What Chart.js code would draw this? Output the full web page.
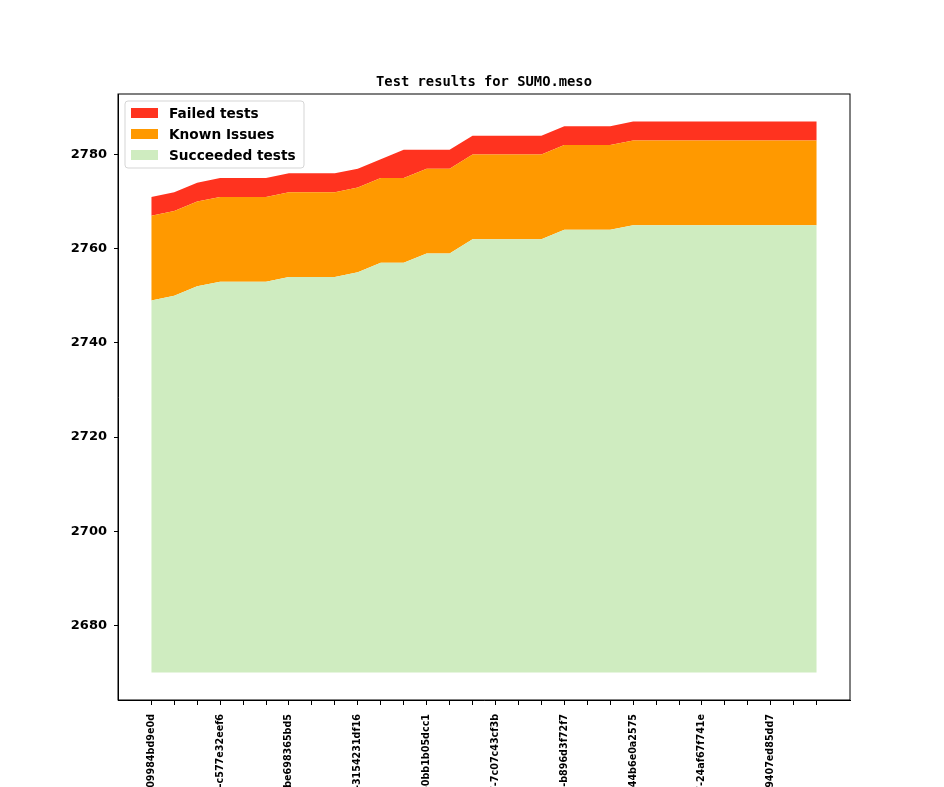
<!DOCTYPE html>
<html>
<head>
<meta charset="utf-8">
<script src="https://cdn.jsdelivr.net/npm/chart.js@4.4.1/dist/chart.umd.min.js"></script>
<style>
  body { margin: 0; background: #fff; overflow: hidden; }
  canvas { display: block; }
</style>
</head>
<body>
<canvas id="results" width="944" height="787"></canvas>
<script>
// ---------- DATA ----------
// commit labels (git describe of each tested build)
const commits = [
  "v1_19_0+0581-09984bd9e0d", "v1_19_0+0584-3a1f0c2b7e4", "v1_19_0+0590-5d2e81a9c03",
  "v1_19_0+0593-c577e32eef6", "v1_19_0+0597-81b0d4e6a2f", "v1_19_0+0602-e7c3a95d118",
  "v1_19_0+0606-be698365bd5", "v1_19_0+0611-4f20b7c8d9a", "v1_19_0+0615-a93e6d2014c",
  "v1_19_0+0619-3154231df16", "v1_19_0+0624-d08c5b7a3e1", "v1_19_0+0630-6b2f9e4c170",
  "v1_19_0+0633-0bb1b05dcc1", "v1_19_0+0638-f41a7d3e92b", "v1_19_0+0642-27c9e0b5a6d",
  "v1_19_0+0647-7c07c43cf3b", "v1_19_0+0651-9e85a1f06c2", "v1_19_0+0656-c3d47b2e801",
  "v1_19_0+0660-b896d3f72f7", "v1_19_0+0664-5a0e2c9b4d3", "v1_19_0+0669-e12f8a6c7b0",
  "v1_19_0+0673-44b6e0a2575", "v1_19_0+0678-0d9c3b5e1a4", "v1_19_0+0682-7f6a2e8d0c9",
  "v1_19_0+0687-24af67f741e", "v1_19_0+0691-b5c1e04a8f3", "v1_19_0+0696-38e7d9a2b16",
  "v1_19_0+0701-9407ed85dd7", "v1_19_0+0705-c6a0f3e4b28", "v1_19_0+0710-1e5b8d7c04a"
];

// number of tests per commit
const succeeded = [2749, 2750, 2752, 2753, 2753, 2753, 2754, 2754, 2754, 2755,
                   2757, 2757, 2759, 2759, 2762, 2762, 2762, 2762, 2764, 2764,
                   2764, 2765, 2765, 2765, 2765, 2765, 2765, 2765, 2765, 2765];
const knownIssues = [18, 18, 18, 18, 18, 18, 18, 18, 18, 18,
                     18, 18, 18, 18, 18, 18, 18, 18, 18, 18,
                     18, 18, 18, 18, 18, 18, 18, 18, 18, 18];
const failed = [4, 4, 4, 4, 4, 4, 4, 4, 4, 4,
                4, 6, 4, 4, 4, 4, 4, 4, 4, 4,
                4, 4, 4, 4, 4, 4, 4, 4, 4, 4];

const baseline = 2670;           // bottom of the stack
const yTicks = [2680, 2700, 2720, 2740, 2760, 2780];
const labelEvery = 3;            // every third commit gets a label
const titleText = "Test results for SUMO.meso";

// ---------- HELPERS ----------
const toPoints = (values) => values.map((v, i) => ({ x: i, y: v }));

// axis limits with matplotlib style 5% margins
const tops = succeeded.map((s, i) => s + knownIssues[i] + failed[i]);
const yLow = baseline, yHigh = Math.max(...tops);
const yMargin = (yHigh - yLow) * 0.05;
const xMargin = (commits.length - 1) * 0.05;

// title centred over the plot area (not the whole canvas)
const plotTitle = {
  id: "plotTitle",
  afterDraw(chart) {
    const { ctx, chartArea: a } = chart;
    ctx.save();
    ctx.font = "bold 13.8px 'DejaVu Sans Mono'";
    ctx.fillStyle = "#000";
    ctx.textAlign = "center";
    ctx.textBaseline = "alphabetic";
    ctx.fillText(titleText, (a.left + a.right) / 2, a.top - 8);
    ctx.restore();
  }
};

// legend drawn inside the plot, top left, like matplotlib's
const innerLegend = {
  id: "innerLegend",
  afterDraw(chart) {
    const ctx = chart.ctx;
    const area = chart.chartArea;
    const x0 = area.left + 7, y0 = area.top + 7;
    const w = 179, h = 67;
    ctx.save();
    ctx.beginPath();
    ctx.roundRect(x0, y0, w, h, 3);
    ctx.fillStyle = "rgba(255,255,255,0.8)";
    ctx.fill();
    ctx.strokeStyle = "#d5d5d5";
    ctx.lineWidth = 1;
    ctx.stroke();
    ctx.font = "bold 13.7px 'DejaVu Sans'";
    ctx.textBaseline = "middle";
    const items = chart.data.datasets.slice().reverse();
    items.forEach((ds, k) => {
      const cy = y0 + 12 + k * 21;
      ctx.fillStyle = ds.backgroundColor;
      ctx.fillRect(x0 + 6, cy - 5, 27, 10);
      ctx.fillStyle = "#000";
      ctx.fillText(ds.label, x0 + 44, cy + 1);
    });
    ctx.restore();
  }
};

// top and right spines
const frame = {
  id: "frame",
  afterDraw(chart) {
    const { ctx, chartArea: a } = chart;
    ctx.save();
    ctx.strokeStyle = "#000";
    ctx.lineWidth = 1;
    ctx.strokeRect(a.left, a.top, a.right - a.left, a.bottom - a.top);
    ctx.restore();
  }
};

// ---------- CHART ----------
const ctx = document.getElementById("results");
const chart = new Chart(ctx, {
  type: "line",
  data: {
    datasets: [
      {
        label: "Succeeded tests",
        data: toPoints(succeeded),
        backgroundColor: "#cfecc0",
        fill: { value: baseline },
      },
      {
        label: "Known Issues",
        data: toPoints(knownIssues),
        backgroundColor: "#ff9900",
        fill: "-1",
      },
      {
        label: "Failed tests",
        data: toPoints(failed),
        backgroundColor: "#ff331f",
        fill: "-1",
      },
    ],
  },
  plugins: [plotTitle, innerLegend, frame],
  options: {
    responsive: false,
    animation: false,
    devicePixelRatio: 1,
    elements: {
      line: { borderWidth: 0, tension: 0 },
      point: { radius: 0 },
    },
    layout: {
      padding: { top: 94, right: 94, left: 0, bottom: 0 },
    },
    plugins: {
      legend: { display: false },
      tooltip: { enabled: false },
      title: { display: false },
    },
    scales: {
      x: {
        type: "linear",
        min: -xMargin,
        max: commits.length - 1 + xMargin,
        afterBuildTicks: (scale) => {
          scale.ticks = commits.map((c, i) => ({ value: i }));
        },
        afterFit: (scale) => {
          scale.height = 87;
        },
        grid: { drawOnChartArea: false, color: "#000", tickLength: 5 },
        border: { color: "#000" },
        ticks: {
          autoSkip: false,
          maxRotation: 90,
          minRotation: 90,
          padding: 9,
          color: "#000",
          font: { family: "'DejaVu Sans'", size: 9.6, weight: "bold" },
          callback: (value) => (value % labelEvery === 0 ? commits[value] : ""),
        },
      },
      y: {
        stacked: true,
        min: yLow - yMargin,
        max: yHigh + yMargin,
        afterBuildTicks: (scale) => {
          scale.ticks = yTicks.map((v) => ({ value: v }));
        },
        afterFit: (scale) => {
          scale.width = 118;
        },
        grid: { drawOnChartArea: false, color: "#000", tickLength: 4 },
        border: { color: "#000" },
        ticks: {
          padding: 7,
          color: "#000",
          font: { family: "'DejaVu Sans'", size: 13, weight: "bold" },
          callback: (value) => String(value),
        },
      },
    },
  },
});
</script>
</body>
</html>
